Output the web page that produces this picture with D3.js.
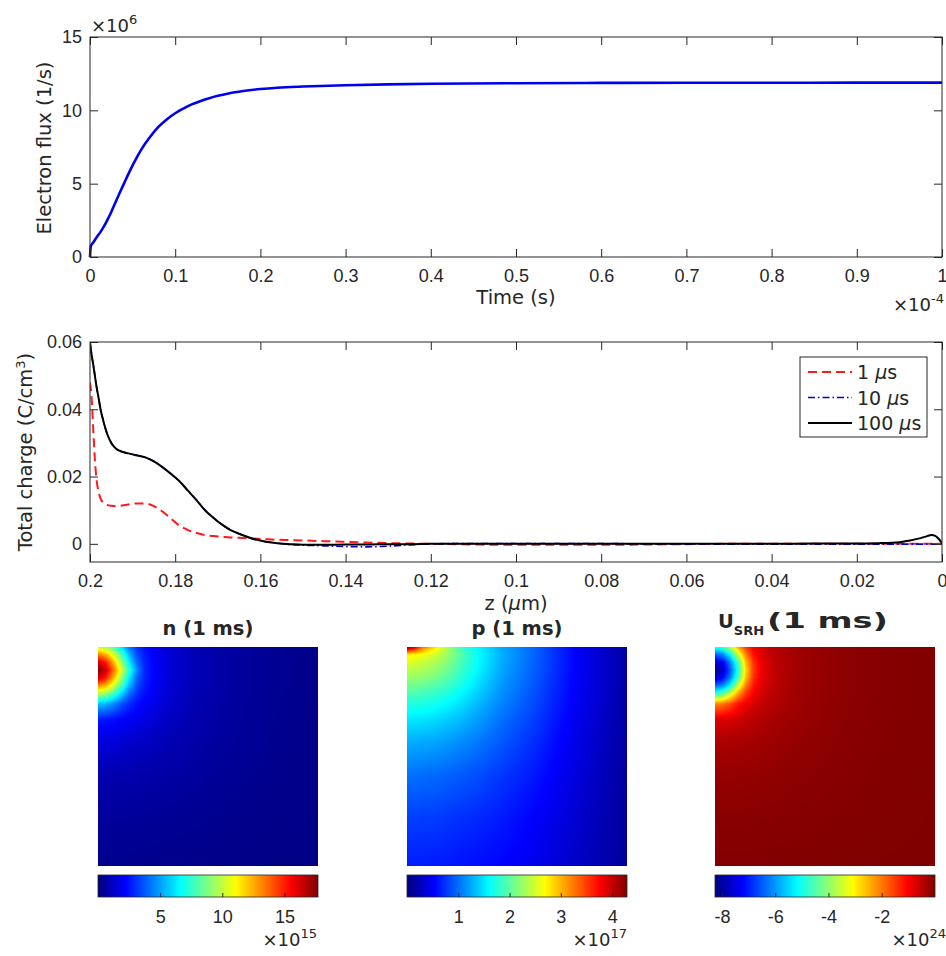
<!DOCTYPE html>
<html>
<head>
<meta charset="utf-8">
<script src="https://cdn.jsdelivr.net/npm/d3@7"></script>
<style>
  body { margin: 0; background: #fff; }
  svg { display: block; font-family: "DejaVu Sans", sans-serif; }
</style>
</head>
<body>
<script>
// ---- data (as displayed: time in 1e-4 s, flux in 1e6 1/s) ----
const TIME = [0, 0.001, 0.004, 0.008, 0.012, 0.016, 0.02, 0.024, 0.028, 0.032, 0.036, 0.04, 0.045, 0.05, 0.055,
  0.06, 0.065, 0.07, 0.08, 0.09, 0.1, 0.11, 0.12, 0.13, 0.14, 0.15, 0.16, 0.17, 0.18, 0.2, 0.22, 0.25,
  0.3, 0.35, 0.4, 0.5, 0.6, 0.7, 0.8, 0.9, 1.0];
const FLUX = [0, 0.75, 1.0, 1.36, 1.68, 2.05, 2.48, 2.95, 3.48, 4.0, 4.52, 5.02, 5.65, 6.25, 6.8,
  7.3, 7.75, 8.15, 8.85, 9.38, 9.8, 10.13, 10.42, 10.64, 10.83, 10.99, 11.12, 11.23, 11.32, 11.45, 11.54, 11.62,
  11.71, 11.77, 11.81, 11.85, 11.87, 11.88, 11.88, 11.89, 11.89];
const TIME_TICKS = [0, 0.1, 0.2, 0.3, 0.4, 0.5, 0.6, 0.7, 0.8, 0.9, 1];
const TIME_LABELS = ["0", "0.1", "0.2", "0.3", "0.4", "0.5", "0.6", "0.7", "0.8", "0.9", "1"];
const FLUX_TICKS = [0, 5, 10, 15];

const Z = [0.2, 0.1996, 0.1992, 0.1988, 0.1984, 0.198, 0.1975, 0.197, 0.196, 0.195, 0.194, 0.1925, 0.191,
  0.189, 0.187, 0.185, 0.183, 0.181, 0.179, 0.177, 0.175, 0.173, 0.171, 0.169, 0.167, 0.165, 0.162,
  0.159, 0.156, 0.153, 0.15, 0.145, 0.14, 0.135, 0.13, 0.125, 0.12, 0.11, 0.1, 0.09, 0.08, 0.07, 0.06,
  0.05, 0.04, 0.03, 0.02, 0.015, 0.01, 0.0075, 0.005, 0.0035, 0.0025, 0.0015, 0.0008, 0];
const CHARGE_1US = [0.048, 0.043, 0.033, 0.024, 0.0185, 0.0155, 0.0134, 0.0124, 0.0116, 0.0113, 0.0112, 0.0114, 0.0117,
  0.012, 0.012, 0.0112, 0.0096, 0.0075, 0.0054, 0.0041, 0.0032, 0.0026, 0.0023, 0.0021, 0.0019, 0.0018, 0.0016,
  0.0014, 0.0012, 0.0011, 0.001, 0.0008, 0.0006, 0.0004, 0.0002, 0.0001, 0, -0.0002, -0.0003, -0.0003, -0.0003, -0.0002, -0.0001,
  0, 0, 0, 0, 0, 0, 0, 0, 0, 0, 0, 0, 0];
const CHARGE_10US = [0.06, 0.056, 0.053, 0.0495, 0.0462, 0.0435, 0.0398, 0.0372, 0.0328, 0.03, 0.0284, 0.0274, 0.0269,
  0.0263, 0.0257, 0.0245, 0.0228, 0.0208, 0.0186, 0.0158, 0.013, 0.01, 0.0077, 0.0057, 0.0041, 0.003, 0.0016,
  0.0007, 0.0002, -0.0002, -0.0004, -0.0006, -0.0008, -0.0009, -0.0007, -0.0003, 0, 0.0001, 0.0001, 0.0001, 0.0001, 0, 0,
  -0.0001, -0.0001, -0.0001, -0.0001, -0.0001, -0.0001, -0.0001, -0.0001, -0.0001, -0.0001, -0.0001, -0.0001, 0];
const CHARGE_100US = [0.06, 0.056, 0.053, 0.0495, 0.0462, 0.0435, 0.0398, 0.0372, 0.0328, 0.03, 0.0284, 0.0274, 0.0269,
  0.0263, 0.0257, 0.0245, 0.0228, 0.0208, 0.0186, 0.0158, 0.013, 0.01, 0.0077, 0.0057, 0.0041, 0.003, 0.0016,
  0.0007, 0.0002, -0.0001, -0.0003, -0.0003, -0.0002, -0.0002, -0.0001, -0.0001, 0, 0, 0, 0, 0, 0, 0,
  0, 0, 0.0001, 0.0001, 0.0002, 0.0005, 0.001, 0.0017, 0.0023, 0.0026, 0.0023, 0.0015, 0.0002];
const Z_TICKS = [0.2, 0.18, 0.16, 0.14, 0.12, 0.1, 0.08, 0.06, 0.04, 0.02, 0];
const Z_LABELS = ["0.2", "0.18", "0.16", "0.14", "0.12", "0.1", "0.08", "0.06", "0.04", "0.02", "0"];
const CHARGE_TICKS = [0, 0.02, 0.04, 0.06];
const CHARGE_LABELS = ["0", "0.02", "0.04", "0.06"];
const SERIES_NAMES = ["1 ", "10 ", "100 "];

// 2D maps at 1 ms, nodes at these fractions of width/height from the top-left corner
const FIELD_GRID = [0, 0.035, 0.07, 0.105, 0.14, 0.175, 0.21, 0.26, 0.33, 0.43, 0.58, 0.78, 1];
const N_FIELD = [ // 1e15
  [10.0, 9.5, 8.1, 6.2, 4.3, 3.1, 2.45, 1.95, 1.4, 0.95, 0.6, 0.35, 0.2],
  [13.3, 12.5, 10.5, 8.1, 5.5, 3.65, 2.65, 2.03, 1.45, 0.98, 0.62, 0.35, 0.2],
  [16.3, 15.1, 12.5, 9.45, 6.55, 4.1, 2.85, 2.1, 1.5, 1.0, 0.62, 0.35, 0.2],
  [17.7, 16.3, 13.7, 10.5, 7.5, 4.75, 2.9, 2.1, 1.5, 1.0, 0.62, 0.35, 0.2],
  [16.3, 15.1, 12.5, 9.45, 6.55, 4.1, 2.85, 2.1, 1.5, 1.0, 0.62, 0.35, 0.2],
  [13.3, 12.5, 10.5, 8.1, 5.5, 3.65, 2.65, 2.03, 1.45, 0.98, 0.62, 0.35, 0.2],
  [10.0, 9.5, 8.1, 6.2, 4.3, 3.1, 2.45, 1.95, 1.4, 0.95, 0.6, 0.35, 0.2],
  [5.6, 5.3, 4.6, 3.7, 2.95, 2.45, 2.1, 1.75, 1.3, 0.9, 0.58, 0.33, 0.2],
  [2.6, 2.55, 2.45, 2.25, 2.05, 1.9, 1.7, 1.45, 1.15, 0.83, 0.55, 0.32, 0.18],
  [1.6, 1.58, 1.55, 1.45, 1.37, 1.28, 1.2, 1.07, 0.88, 0.72, 0.5, 0.3, 0.17],
  [0.85, 0.85, 0.84, 0.83, 0.8, 0.77, 0.74, 0.7, 0.63, 0.53, 0.39, 0.25, 0.16],
  [0.48, 0.48, 0.47, 0.47, 0.46, 0.45, 0.43, 0.4, 0.38, 0.34, 0.26, 0.18, 0.14],
  [0.26, 0.26, 0.25, 0.25, 0.24, 0.24, 0.23, 0.22, 0.2, 0.19, 0.17, 0.14, 0.12]
];
const P_FIELD = [ // 1e17
  [4.29, 3.9, 3.3, 3.0, 2.7, 2.4, 2.1, 1.8, 1.55, 1.25, 0.95, 0.47, 0.15],
  [2.75, 2.7, 2.65, 2.55, 2.45, 2.3, 2.15, 1.9, 1.6, 1.28, 0.95, 0.5, 0.16],
  [2.55, 2.5, 2.45, 2.38, 2.3, 2.2, 2.05, 1.85, 1.58, 1.26, 0.94, 0.5, 0.16],
  [2.4, 2.37, 2.33, 2.27, 2.2, 2.1, 1.98, 1.8, 1.55, 1.24, 0.93, 0.5, 0.16],
  [2.25, 2.23, 2.2, 2.15, 2.08, 2.0, 1.9, 1.73, 1.5, 1.21, 0.91, 0.49, 0.16],
  [2.1, 2.08, 2.05, 2.0, 1.95, 1.88, 1.8, 1.65, 1.45, 1.18, 0.89, 0.49, 0.16],
  [1.95, 1.93, 1.9, 1.86, 1.82, 1.76, 1.69, 1.57, 1.39, 1.14, 0.87, 0.48, 0.16],
  [1.75, 1.74, 1.72, 1.69, 1.65, 1.6, 1.55, 1.45, 1.3, 1.09, 0.84, 0.47, 0.15],
  [1.52, 1.51, 1.5, 1.48, 1.45, 1.41, 1.37, 1.3, 1.19, 1.01, 0.79, 0.45, 0.15],
  [1.28, 1.27, 1.26, 1.25, 1.23, 1.2, 1.17, 1.12, 1.04, 0.91, 0.72, 0.42, 0.14],
  [1.02, 1.01, 1.0, 0.99, 0.98, 0.96, 0.94, 0.91, 0.86, 0.77, 0.63, 0.38, 0.13],
  [0.8, 0.8, 0.79, 0.79, 0.78, 0.77, 0.75, 0.73, 0.7, 0.64, 0.53, 0.33, 0.12],
  [0.65, 0.65, 0.65, 0.64, 0.64, 0.63, 0.62, 0.6, 0.58, 0.54, 0.46, 0.29, 0.11]
];
const U_FIELD = [ // 1e24
  [-4.93, -4.62, -3.6, -2.4, -1.5, -0.98, -0.71, -0.48, -0.32, -0.21, -0.11, -0.05, -0.02],
  [-6.5, -6.15, -5.2, -3.56, -2.08, -1.15, -0.8, -0.52, -0.34, -0.21, -0.11, -0.05, -0.02],
  [-7.64, -7.25, -6.15, -4.6, -2.57, -1.42, -0.88, -0.56, -0.35, -0.21, -0.11, -0.05, -0.02],
  [-8.26, -7.64, -6.5, -4.9, -2.8, -1.5, -0.9, -0.56, -0.35, -0.22, -0.11, -0.05, -0.02],
  [-7.64, -7.25, -6.15, -4.6, -2.57, -1.42, -0.88, -0.56, -0.35, -0.21, -0.11, -0.05, -0.02],
  [-6.5, -6.15, -5.2, -3.56, -2.08, -1.15, -0.8, -0.52, -0.34, -0.21, -0.11, -0.05, -0.02],
  [-4.93, -4.62, -3.6, -2.4, -1.5, -0.98, -0.71, -0.48, -0.32, -0.21, -0.11, -0.05, -0.02],
  [-2.15, -1.97, -1.63, -1.17, -0.92, -0.7, -0.56, -0.42, -0.31, -0.2, -0.1, -0.05, -0.02],
  [-0.77, -0.75, -0.71, -0.64, -0.54, -0.46, -0.41, -0.33, -0.26, -0.18, -0.1, -0.045, -0.02],
  [-0.37, -0.36, -0.35, -0.33, -0.31, -0.3, -0.27, -0.24, -0.19, -0.14, -0.08, -0.04, -0.018],
  [-0.19, -0.19, -0.19, -0.18, -0.18, -0.17, -0.16, -0.15, -0.12, -0.1, -0.065, -0.03, -0.013],
  [-0.08, -0.08, -0.08, -0.08, -0.075, -0.075, -0.07, -0.068, -0.063, -0.05, -0.035, -0.02, -0.01],
  [-0.03, -0.03, -0.03, -0.03, -0.03, -0.03, -0.03, -0.028, -0.026, -0.02, -0.015, -0.01, -0.005]
];
const N_RANGE = [0, 17.7];
const P_RANGE = [0, 4.29];
const U_RANGE = [-8.26, 0];
const N_TICKS = [5, 10, 15];
const P_TICKS = [1, 2, 3, 4];
const U_TICKS = [-8, -6, -4, -2];

// ---- style ----
const INK = "#262626";
const TICK_FONT = 18;
const LABEL_FONT = 19.5;
const JET_STOPS = [0, 0.125, 0.375, 0.625, 0.875, 1];
const JET_COLORS = ["#00007f", "#0000ff", "#00ffff", "#ffff00", "#ff0000", "#7f0000"];

const SVG = d3.select("body").append("svg").attr("width", 946).attr("height", 956);
const DEFS = SVG.append("defs");

function jetScale(range) {
  return d3.scaleLinear()
    .domain(JET_STOPS.map((f) => range[0] + f * (range[1] - range[0])))
    .range(JET_COLORS)
    .clamp(true);
}

function styleAxis(g) {
  g.select(".domain").remove();
  g.selectAll("line").attr("stroke", INK).attr("stroke-width", 1);
  g.selectAll("text").attr("fill", INK).style("font-size", TICK_FONT + "px");
}

function drawFrame(box, x, y, xTicks, xLabels, yTicks, yLabels) {
  SVG.append("g").attr("transform", "translate(0," + box.bottom + ")")
    .call(d3.axisBottom(x).tickValues(xTicks).tickSize(-8).tickSizeOuter(0).tickPadding(12)
      .tickFormat((d, i) => xLabels[i]))
    .call(styleAxis);
  SVG.append("g").attr("transform", "translate(0," + box.top + ")")
    .call(d3.axisTop(x).tickValues(xTicks).tickSize(-8).tickSizeOuter(0).tickFormat(""))
    .call(styleAxis);
  SVG.append("g").attr("transform", "translate(" + box.left + ",0)")
    .call(d3.axisLeft(y).tickValues(yTicks).tickSize(-8).tickSizeOuter(0).tickPadding(8)
      .tickFormat((d, i) => yLabels[i]))
    .call(styleAxis);
  SVG.append("g").attr("transform", "translate(" + box.right + ",0)")
    .call(d3.axisRight(y).tickValues(yTicks).tickSize(-8).tickSizeOuter(0).tickFormat(""))
    .call(styleAxis);
  SVG.append("rect")
    .attr("x", box.left).attr("y", box.top)
    .attr("width", box.right - box.left).attr("height", box.bottom - box.top)
    .attr("fill", "none").attr("stroke", INK).attr("stroke-width", 1);
}

function exponent(x, y, anchor, power) {
  const t = SVG.append("text").attr("x", x).attr("y", y).attr("text-anchor", anchor)
    .attr("fill", INK).style("font-size", "18px");
  t.append("tspan").text("×10");
  t.append("tspan").attr("dy", -8).style("font-size", "13px").text(power);
  return t;
}

// ---- top: electron flux ----
const TOP = { left: 90, right: 942, top: 37, bottom: 257 };
const X_TIME = d3.scaleLinear().domain([0, 1]).range([TOP.left, TOP.right]);
const Y_FLUX = d3.scaleLinear().domain([0, 15]).range([TOP.bottom, TOP.top]);

SVG.append("path")
  .datum(TIME.map((t, i) => [t, FLUX[i]]))
  .attr("fill", "none").attr("stroke", "#0000f0").attr("stroke-width", 2.6)
  .attr("d", d3.line().x((d) => X_TIME(d[0])).y((d) => Y_FLUX(d[1])).curve(d3.curveMonotoneX));

drawFrame(TOP, X_TIME, Y_FLUX, TIME_TICKS, TIME_LABELS, FLUX_TICKS, FLUX_TICKS.map(String));
exponent(91, 32, "start", "6");
exponent(944, 311, "end", "-4");

SVG.append("text").attr("x", 516).attr("y", 304).attr("text-anchor", "middle")
  .attr("fill", INK).style("font-size", LABEL_FONT + "px").text("Time (s)");
SVG.append("text").attr("transform", "translate(51,148) rotate(-90)").attr("text-anchor", "middle")
  .attr("fill", INK).style("font-size", LABEL_FONT + "px").text("Electron flux (1/s)");

// ---- middle: total charge ----
const MID = { left: 90, right: 942, top: 342, bottom: 562 };
const X_Z = d3.scaleLinear().domain([0.2, 0]).range([MID.left, MID.right]);
const Y_CHARGE = d3.scaleLinear().domain([-0.0054, 0.06]).range([MID.bottom, MID.top]);
const CHARGE_LINE = d3.line().x((d) => X_Z(d[0])).y((d) => Y_CHARGE(d[1])).curve(d3.curveMonotoneX);

const SERIES = [
  { values: CHARGE_1US, color: "#ff1a1a", width: 2, dash: "9,5" },
  { values: CHARGE_10US, color: "#0000d0", width: 1.6, dash: "7,3,1.5,3" },
  { values: CHARGE_100US, color: "#000000", width: 2, dash: null }
];

DEFS.append("clipPath").attr("id", "mid-clip")
  .append("rect").attr("x", MID.left).attr("y", MID.top - 2)
  .attr("width", MID.right - MID.left).attr("height", MID.bottom - MID.top + 2);

SVG.append("g").attr("clip-path", "url(#mid-clip)")
  .selectAll("path")
  .data(SERIES)
  .enter()
  .append("path")
  .attr("fill", "none")
  .attr("stroke", (s) => s.color)
  .attr("stroke-width", (s) => s.width)
  .attr("stroke-dasharray", (s) => s.dash)
  .attr("d", (s) => CHARGE_LINE(Z.map((z, i) => [z, s.values[i]])));

drawFrame(MID, X_Z, Y_CHARGE, Z_TICKS, Z_LABELS, CHARGE_TICKS, CHARGE_LABELS);

SVG.append("text").attr("x", 516).attr("y", 610).attr("text-anchor", "middle")
  .attr("fill", INK).style("font-size", LABEL_FONT + "px")
  .call((t) => {
    t.append("tspan").text("z (");
    t.append("tspan").style("font-style", "italic").text("μ");
    t.append("tspan").text("m)");
  });
SVG.append("text").attr("transform", "translate(32,452) rotate(-90)").attr("text-anchor", "middle")
  .attr("fill", INK).style("font-size", LABEL_FONT + "px")
  .call((t) => {
    t.append("tspan").text("Total charge (C/cm");
    t.append("tspan").attr("dy", -7).style("font-size", "13px").text("3");
    t.append("tspan").attr("dy", 7).text(")");
  });

// legend
const LEGEND = SVG.append("g");
LEGEND.append("rect").attr("x", 800).attr("y", 357).attr("width", 127).attr("height", 80)
  .attr("fill", "#fff").attr("stroke", INK).attr("stroke-width", 1);
const LEGEND_ROW = d3.scaleLinear().domain([0, 2]).range([372, 423]);
SERIES.forEach((s, i) => {
  LEGEND.append("line")
    .attr("x1", 808).attr("x2", 852).attr("y1", LEGEND_ROW(i)).attr("y2", LEGEND_ROW(i))
    .attr("stroke", s.color).attr("stroke-width", s.width).attr("stroke-dasharray", s.dash);
  const t = LEGEND.append("text").attr("x", 857).attr("y", LEGEND_ROW(i) + 7)
    .attr("fill", INK).style("font-size", "19px");
  t.append("tspan").text(SERIES_NAMES[i]);
  t.append("tspan").style("font-style", "italic").text("μ");
  t.append("tspan").text("s");
});

// ---- bottom: maps ----
function drawField(values, range, box) {
  const color = jetScale(range);
  const w = box.width;
  const h = box.height;
  const canvas = document.createElement("canvas");
  canvas.width = w;
  canvas.height = h;
  const ctx = canvas.getContext("2d");
  const img = ctx.createImageData(w, h);
  const toU = d3.scaleLinear().domain([0, w]).range([0, 1]);
  const toV = d3.scaleLinear().domain([0, h]).range([0, 1]);
  const last = FIELD_GRID.length - 2;
  const cell = (f) => Math.min(last, Math.max(0, d3.bisectRight(FIELD_GRID, f) - 1));
  for (let py = 0; py < h; py++) {
    const v = toV(py + 0.5);
    const j = cell(v);
    const tv = (v - FIELD_GRID[j]) / (FIELD_GRID[j + 1] - FIELD_GRID[j]);
    for (let px = 0; px < w; px++) {
      const u = toU(px + 0.5);
      const i = cell(u);
      const tu = (u - FIELD_GRID[i]) / (FIELD_GRID[i + 1] - FIELD_GRID[i]);
      const a = values[j][i] * (1 - tu) + values[j][i + 1] * tu;
      const b = values[j + 1][i] * (1 - tu) + values[j + 1][i + 1] * tu;
      const c = d3.rgb(color(a * (1 - tv) + b * tv));
      const k = (py * w + px) * 4;
      img.data[k] = c.r;
      img.data[k + 1] = c.g;
      img.data[k + 2] = c.b;
      img.data[k + 3] = 255;
    }
  }
  ctx.putImageData(img, 0, 0);
  SVG.append("image")
    .attr("x", box.x).attr("y", box.y).attr("width", w).attr("height", h)
    .attr("href", canvas.toDataURL());
}

function drawColorbar(id, range, ticks, x, width) {
  const grad = DEFS.append("linearGradient").attr("id", id);
  grad.selectAll("stop").data(JET_STOPS).enter().append("stop")
    .attr("offset", (d) => d).attr("stop-color", (d, i) => JET_COLORS[i]);
  SVG.append("rect").attr("x", x).attr("y", 875).attr("width", width).attr("height", 22)
    .attr("fill", "url(#" + id + ")").attr("stroke", INK).attr("stroke-width", 0.8);
  const scale = d3.scaleLinear().domain(range).range([x, x + width]);
  SVG.append("g").attr("transform", "translate(0,897)")
    .call(d3.axisBottom(scale).tickValues(ticks).tickSize(-4).tickSizeOuter(0).tickPadding(13)
      .tickFormat((d) => String(d)))
    .call(styleAxis);
}

function title(x, text) {
  SVG.append("text").attr("x", x).attr("y", 635).attr("text-anchor", "middle")
    .attr("fill", INK).style("font-size", LABEL_FONT + "px").style("font-weight", "bold").text(text);
}

const MAPS = [
  { values: N_FIELD, range: N_RANGE, ticks: N_TICKS, x: 98, power: "15", id: "cb-n", expX: 317 },
  { values: P_FIELD, range: P_RANGE, ticks: P_TICKS, x: 407, power: "17", id: "cb-p", expX: 627 },
  { values: U_FIELD, range: U_RANGE, ticks: U_TICKS, x: 715, power: "24", id: "cb-u", expX: 946 }
];

MAPS.forEach((m) => {
  drawField(m.values, m.range, { x: m.x, y: 647, width: 220, height: 219 });
  drawColorbar(m.id, m.range, m.ticks, m.x, 220);
  exponent(m.expX, 946, "end", m.power);
});

title(208, "n (1 ms)");
title(517, "p (1 ms)");
SVG.append("text").attr("x", 718).attr("y", 628)
  .attr("fill", INK).style("font-size", LABEL_FONT + "px").style("font-weight", "bold")
  .call((t) => {
    t.append("tspan").text("U");
    t.append("tspan").attr("dy", 7).style("font-size", "13px").text("SRH");
    t.append("tspan").attr("x", 767).attr("dy", -7).style("font-size", "21px")
      .attr("textLength", 121).attr("lengthAdjust", "spacingAndGlyphs").text("(1 ms)");
  });
</script>
</body>
</html>
